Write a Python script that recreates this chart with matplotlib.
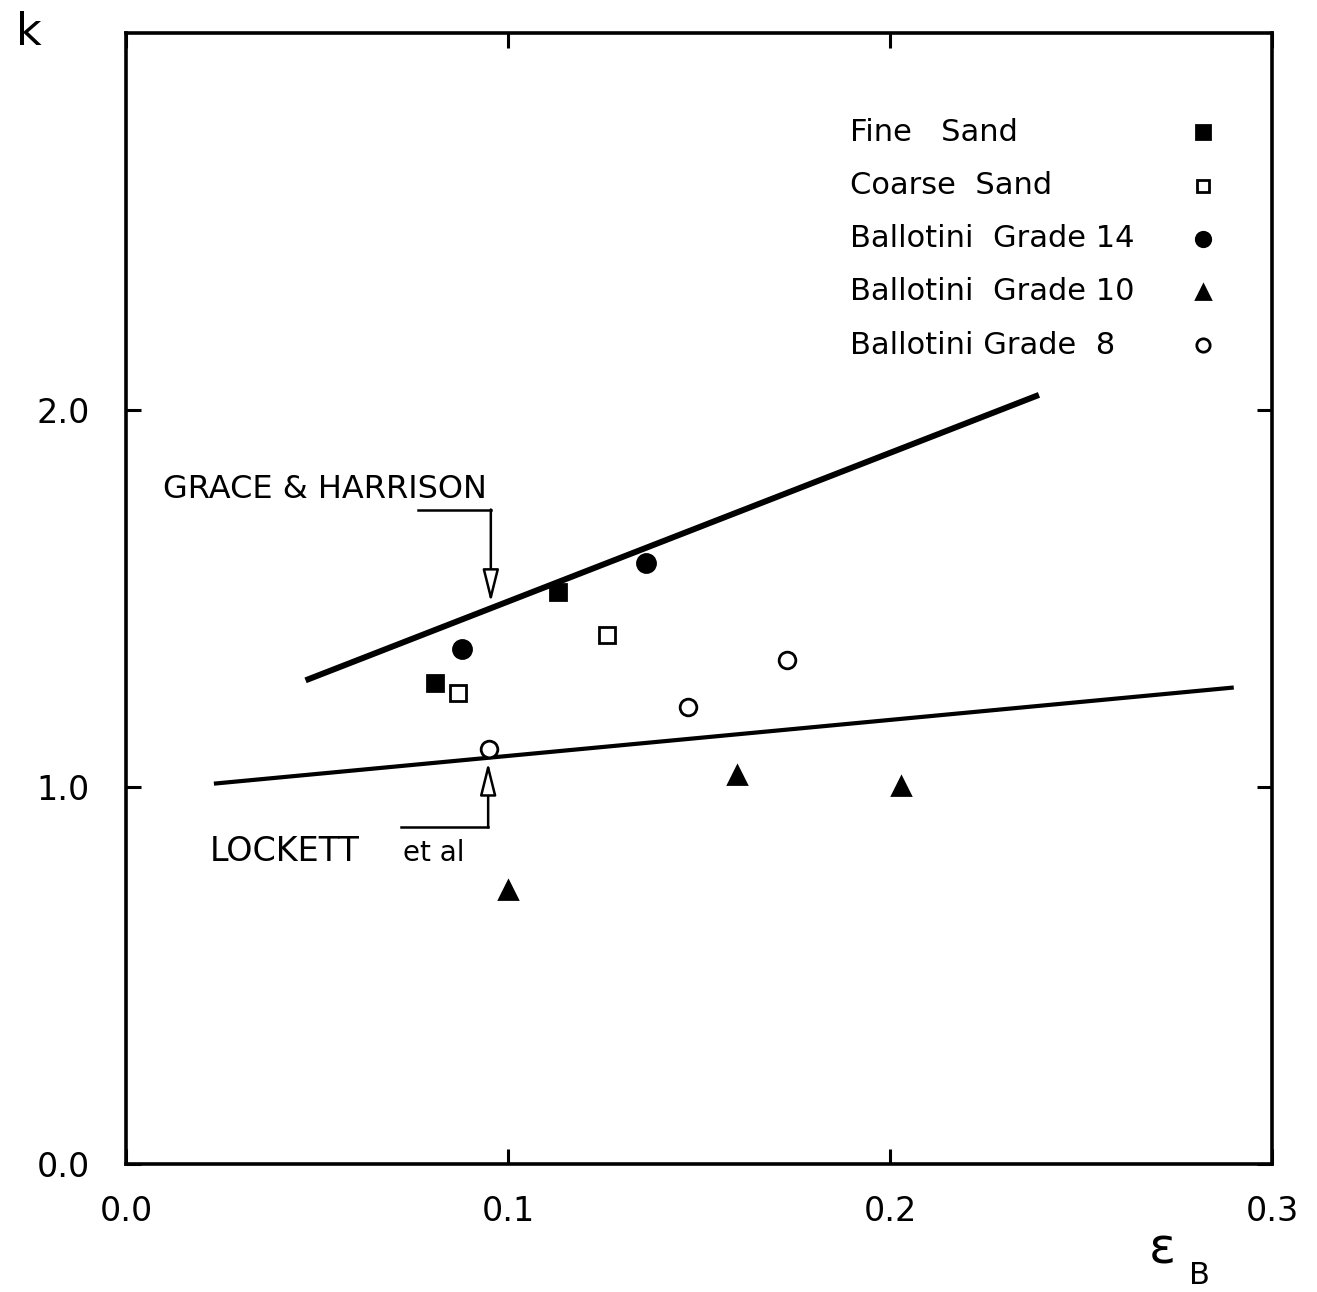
import numpy as np
import matplotlib.pyplot as plt

# measured points, voidage eps_B against k
fine_sand_x = [0.081, 0.113]
fine_sand_y = [1.275, 1.518]
coarse_sand_x = [0.087, 0.126]
coarse_sand_y = [1.250, 1.403]
grade14_x = [0.088, 0.136]
grade14_y = [1.365, 1.594]
grade10_x = [0.100, 0.160, 0.203]
grade10_y = [0.728, 1.031, 1.004]
grade8_x = [0.095, 0.147, 0.173]
grade8_y = [1.101, 1.211, 1.336]

# correlation lines (end points)
grace_x = [0.047, 0.239]
grace_y = [1.283, 2.040]
lockett_x = [0.023, 0.290]
lockett_y = [1.009, 1.264]

x_ticks = [0.0, 0.1, 0.2, 0.3]
x_tick_labels = ["0.0", "0.1", "0.2", "0.3"]
y_ticks = [0.0, 1.0, 2.0]
y_tick_labels = ["0.0", "1.0", "2.0"]

series = [
  ("Fine   Sand", fine_sand_x, fine_sand_y, dict(marker='s', mfc='black', ms=12)),
  ("Coarse  Sand", coarse_sand_x, coarse_sand_y, dict(marker='s', mfc='white', ms=11)),
  ("Ballotini  Grade 14", grade14_x, grade14_y, dict(marker='o', mfc='black', ms=13)),
  ("Ballotini  Grade 10", grade10_x, grade10_y, dict(marker='^', mfc='black', ms=13)),
  ("Ballotini Grade  8", grade8_x, grade8_y, dict(marker='o', mfc='white', ms=12)),
]

plt.rcParams['font.family'] = 'DejaVu Sans'

fig = plt.figure(figsize=(13.17, 12.92), dpi=100)
ax = fig.add_axes([0.0957, 0.099, 0.8701, 0.8755])

ax.plot(grace_x, grace_y, color='black', lw=4.3, solid_capstyle='butt')
ax.plot(lockett_x, lockett_y, color='black', lw=3.0, solid_capstyle='butt')

for name, xs, ys, style in series:
  ax.plot(xs, ys, ls='none', mec='black', mew=2.0, **style)

# legend drawn by hand: labels left aligned, markers in a column on the right
for i, (name, xs, ys, style) in enumerate(series):
  yy = 0.912 - i * 0.047
  ax.text(0.632, yy, name, transform=ax.transAxes, fontsize=22,
          ha='left', va='center')
  st = dict(style)
  st['ms'] = st['ms'] * 0.8
  ax.plot([0.94], [yy], transform=ax.transAxes, ls='none', mec='black',
          mew=2.0, **st)

arrow = dict(arrowstyle='-|>,head_length=1.0,head_width=0.25', mutation_scale=20,
             fc='white', ec='black', lw=1.8, shrinkA=0, shrinkB=0)

# Grace & Harrison label with bent arrow
ax.text(0.0096, 1.790, "GRACE & HARRISON", fontsize=23, ha='left', va='center')
ax.plot([0.0765, 0.0955], [1.736, 1.736], color='black', lw=1.8)
ax.annotate("", xy=(0.0955, 1.49), xytext=(0.0955, 1.736), arrowprops=arrow)

# Lockett et al label with bent arrow
ax.text(0.022, 0.805, "LOCKETT", fontsize=24, ha='left', va='baseline')
ax.text(0.0725, 0.805, "et al", fontsize=20, ha='left', va='baseline')
ax.plot([0.0720, 0.0948], [0.893, 0.893], color='black', lw=1.8)
ax.annotate("", xy=(0.0948, 1.065), xytext=(0.0948, 0.893), arrowprops=arrow)

ax.set_xlim(0, 0.3)
ax.set_ylim(0, 3.0)
ax.set_xticks(x_ticks)
ax.set_xticklabels(x_tick_labels)
ax.set_yticks(y_ticks)
ax.set_yticklabels(y_tick_labels)
ax.tick_params(direction='in', length=11, width=2.2, top=True, right=True,
               labelsize=24)
ax.tick_params(axis='x', pad=22)
ax.tick_params(axis='y', pad=26)
for s in ax.spines.values():
  s.set_linewidth(2.6)

fig.text(0.012, 0.965, "k", fontsize=32, ha='left', va='baseline')
fig.text(0.872, 0.022, "ε", fontsize=36, ha='left', va='baseline')
fig.text(0.903, 0.006, "B", fontsize=22, ha='left', va='baseline')

plt.savefig('out.png', dpi=100)
